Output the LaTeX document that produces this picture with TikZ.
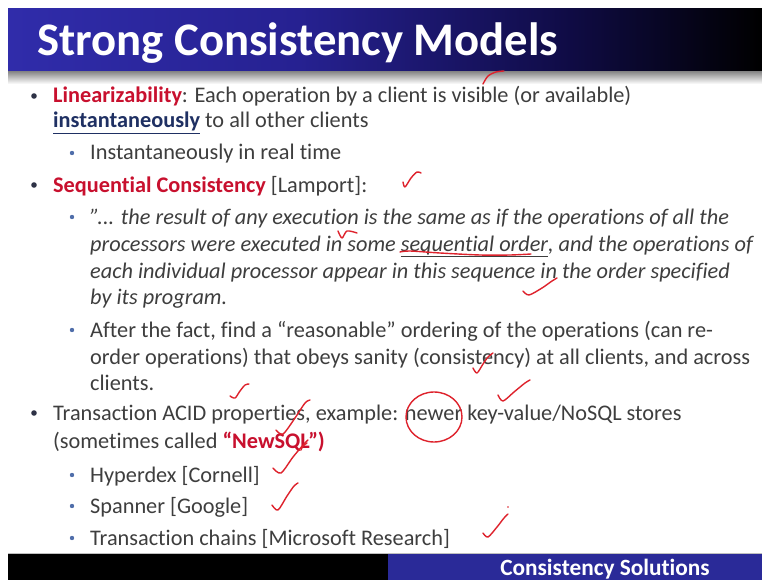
\documentclass[tikz,border=0pt]{standalone}
\usepackage{fontspec}
\setmainfont[Ligatures=NoCommon]{Carlito}
\definecolor{bodytext}{RGB}{62,62,62}
\definecolor{keyred}{RGB}{200,16,46}
\definecolor{keynavy}{RGB}{31,48,99}
\definecolor{inkred}{RGB}{222,34,44}
\definecolor{barblueA}{RGB}{48,44,170}
\definecolor{barblueB}{RGB}{38,33,145}
\definecolor{barblueC}{RGB}{16,12,72}
\definecolor{footblue}{RGB}{42,42,152}
\definecolor{dotmain}{RGB}{45,50,70}
\definecolor{dotsub}{RGB}{80,110,170}
\tikzset{
  txt/.style={anchor=base west, inner sep=0pt, text=bodytext, font=\fontsize{22.3}{26}\selectfont},
  quote/.style={txt, font=\fontsize{22.3}{26}\selectfont\itshape},
  dotA/.style={fill=dotmain, draw=none},
  dotB/.style={fill=dotsub, draw=none},
  pen/.style={draw=inkred, line width=1.4pt, line cap=round, line join=round}
}
\begin{document}
\begin{tikzpicture}[x=1pt,y=-1pt]
\useasboundingbox (0,0) rectangle (762,580);
\fill[white] (0,0) rectangle (762,580);

% title bar with its gradient and shadow
\shade[left color=barblueA, right color=barblueB] (8,9) rectangle (300,72);
\shade[left color=barblueB, right color=barblueC] (299.5,9) rectangle (560,72);
\shade[left color=barblueC, right color=black] (559.5,9) rectangle (762,72);
\shade[top color=black!45, bottom color=white] (8,72) rectangle (762,84);
\node[anchor=base west, inner sep=0pt, text=white, font=\fontsize{46.7}{50}\selectfont\bfseries] (title) at (37,56) {Strong Consistency Models};

% footer
\fill[black] (8,553) rectangle (388,580);
\fill[footblue] (388,553) rectangle (762,580);
\draw[black!25, line width=0.6pt] (8,553) -- (762,553);
\node[anchor=base, inner sep=0pt, text=white, font=\fontsize{23.3}{26}\selectfont\bfseries] (foot) at (605,575.5) {Consistency Solutions};

% bullets
\fill[dotA] (34,96) circle (2.8);
\fill[dotB] (72,153) circle (2.2);
\fill[dotA] (34,185) circle (2.8);
\fill[dotB] (72,217) circle (2.2);
\fill[dotB] (72,330) circle (2.2);
\fill[dotA] (34,413) circle (2.8);
\fill[dotB] (72,475) circle (2.2);
\fill[dotB] (72,506) circle (2.2);
\fill[dotB] (72,538) circle (2.2);

% body text
\node[txt] (l1) at (53,103) {{\bfseries\color{keyred}Linearizability}: Each operation by a client is visible (or available)};
\node[txt] (l2) at (53,128) {{\color{keynavy}\bfseries\underline{instantaneously}} to all other clients};
\node[txt] (l3) at (90,160) {Instantaneously in real time};
\node[txt] (l4) at (53,192) {{\bfseries\color{keyred}Sequential Consistency} [Lamport]:};
\node[quote] (q1) at (90,224) {{\char34}... the result of any execution is the same as if the operations of all the};
\node[quote] (q2) at (90,251) {processors were executed in some \underline{sequential order}, and the operations of};
\node[quote] (q3) at (90,278) {each individual processor appear in this sequence in the order specified};
\node[quote] (q4) at (90,304) {by its program.};
\node[txt] (a1) at (90,337) {After the fact, find a “reasonable” ordering of the operations (can re-};
\node[txt] (a2) at (90,364) {order operations) that obeys sanity (consistency) at all clients, and across};
\node[txt] (a3) at (90,390) {clients.};
\node[txt] (t1) at (53,420) {Transaction ACID properties, example: newer key-value/NoSQL stores};
\node[txt] (t2) at (53,448) {(sometimes called {\bfseries\color{keyred}“NewSQL”)}};
\node[txt] (s1) at (90,482) {Hyperdex [Cornell]};
\node[txt] (s2) at (90,513) {Spanner [Google]};
\node[txt] (s3) at (90,545) {Transaction chains [Microsoft Research]};

% handwritten pen marks
\draw[pen] plot[smooth] coordinates {(483,84) (488,76) (496,72) (504,71)};
\draw[pen] plot[smooth] coordinates {(403,182) (405,187) (411,178) (417,172) (421,173)};
\draw[pen] plot[smooth] coordinates {(338,231) (342,238) (347,231) (357,233)};
\draw[pen] plot[smooth] coordinates {(400,252) (410,251) (440,253) (480,255) (510,255) (531,254)};
\draw[pen] plot[smooth] coordinates {(523,291) (529,295) (542,288) (552,281) (557,278)};
\draw[pen] plot[smooth] coordinates {(473,368) (477,373) (483,364) (488,357) (493,353)};
\draw[pen] plot[smooth] coordinates {(498,395) (503,401) (514,392) (525,383) (530,380)};
\draw[pen] plot[smooth] coordinates {(230,396) (235,398) (240,391) (245,385) (249,384)};
\draw[pen] plot[smooth] coordinates {(276,430) (283,434) (295,418) (305,403) (310,400)};
\draw[pen] plot[smooth] coordinates {(273,468) (281,473) (293,457) (304,444) (308,440)};
\draw[pen] plot[smooth] coordinates {(301,450) (303,446) (307,443)};
\draw[pen] plot[smooth] coordinates {(272,505) (278,510) (287,496) (294,486) (298,483)};
\draw[pen] plot[smooth] coordinates {(483,533) (488,537) (497,527) (504,518) (508,514)};
\fill[inkred] (508,507) circle (0.9);
\draw[pen] (434,417) ellipse [x radius=28pt, y radius=25pt];
\end{tikzpicture}
\end{document}
